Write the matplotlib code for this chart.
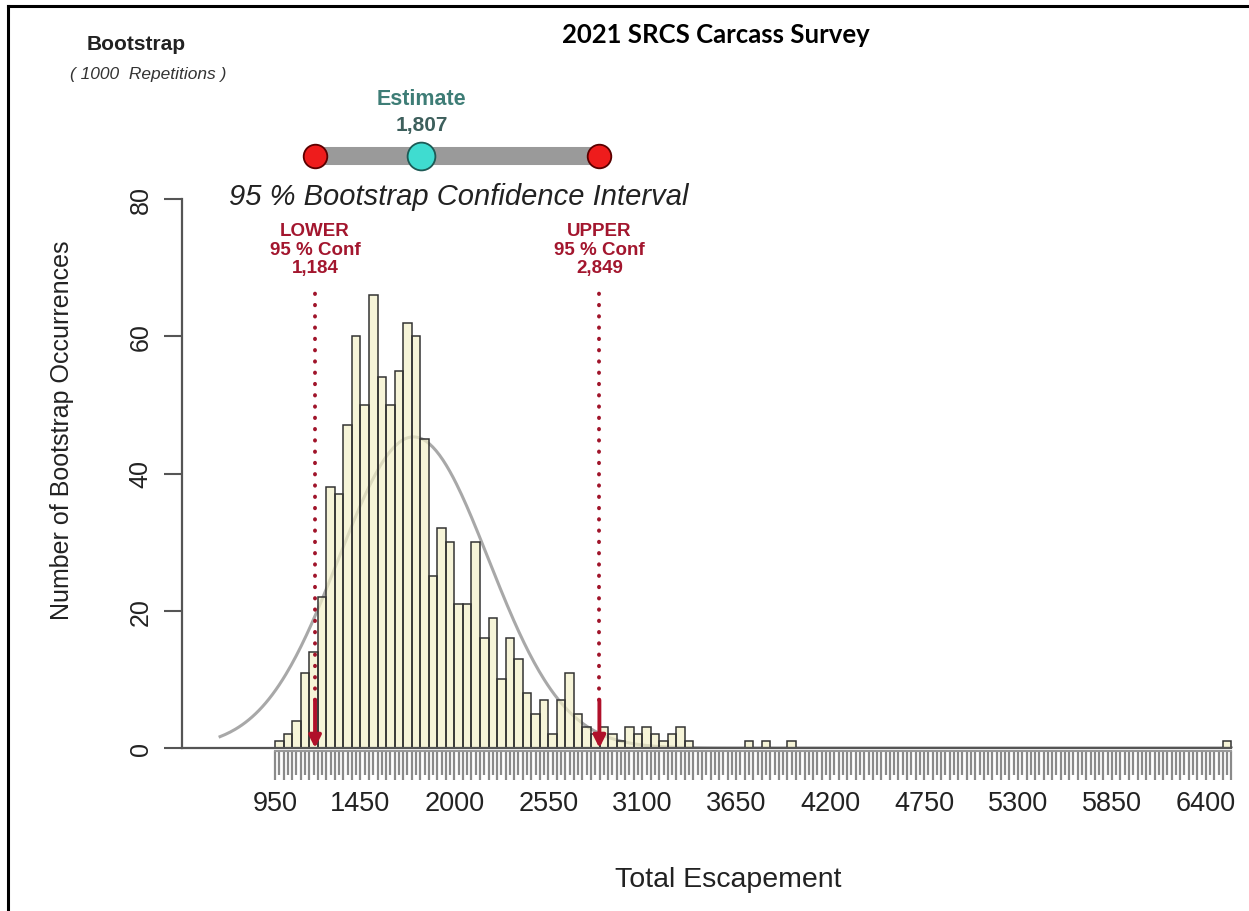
import numpy as np
import matplotlib.pyplot as plt
from matplotlib.lines import Line2D

plt.rcParams['font.family'] = ['Liberation Sans', 'DejaVu Sans']

#%% bootstrap results (1000 reps, 50-wide bins from 950)
bin_start = 950
bin_width = 50
counts = [1, 2, 4, 11, 14, 22, 38, 37, 47, 60, 50, 66, 54, 50, 55, 62, 60, 45, 25, 32, 30,
          21, 21, 30, 16, 19, 10, 16, 13, 8, 5, 7, 2, 7, 11, 5, 3, 2, 3, 2, 1, 3, 2, 3, 2,
          1, 2, 3, 1]
tail_lefts = [3700, 3800, 3950, 6500]
tail_counts = [1, 1, 1, 1]
break_end = 6550

tick_labels = [950, 1450, 2000, 2550, 3100, 3650, 4200, 4750, 5300, 5850, 6400]

estimate = 1807
lower = 1184
upper = 2849

# normal fit drawn over the histogram
boot_mean = 1760
boot_sd = 440
n_reps = 1000

#%% figure
W, H = 1249, 912
fig = plt.figure(figsize=(W / 100, H / 100), dpi=100)
ax = fig.add_axes([182 / W, 1 - 749 / H, 1058 / W, 549 / H])
ax.set_xlim(405, 6600)
ax.set_ylim(0, 80)

lefts = list(bin_start + bin_width * np.arange(len(counts))) + tail_lefts
heights = counts + tail_counts

# normal curve sits under a semi-transparent fill
xs = np.linspace(628, break_end, 600)
ys = n_reps * bin_width * np.exp(-0.5 * ((xs - boot_mean) / boot_sd) ** 2) / (boot_sd * np.sqrt(2 * np.pi))
ax.plot(xs, ys, color='#a8a8a8', lw=2.2, zorder=1)

ax.bar(lefts, heights, width=bin_width, align='edge', color='#f3f0c8', alpha=0.7,
       edgecolor='none', zorder=2)
ax.bar(lefts, heights, width=bin_width, align='edge', fill=False,
       edgecolor='#333333', lw=1.1, zorder=3)

# baseline at zero
ax.plot([405, break_end], [0, 0], color='#555555', lw=1.6, clip_on=False, zorder=4)

# axes styling
for s in ['top', 'right']:
    ax.spines[s].set_visible(False)
ax.spines['left'].set_bounds(0, 80)
ax.spines['left'].set_color('#555555')
ax.spines['left'].set_linewidth(1.6)
ax.spines['bottom'].set_position(('outward', 2.5))
ax.spines['bottom'].set_bounds(bin_start, break_end)
ax.spines['bottom'].set_color('#999999')
ax.spines['bottom'].set_linewidth(1.5)

breaks = np.arange(bin_start, break_end + 1, bin_width)
ax.set_xticks(breaks)
ax.set_xticks(breaks[:-1] + bin_width / 2, minor=True)
ax.set_xticklabels([str(b) if b in tick_labels else '' for b in breaks])
ax.tick_params(axis='x', which='major', length=21, width=1.6, color='#8a8a8a', pad=7,
               labelsize=19.5, labelcolor='#222222')
ax.tick_params(axis='x', which='minor', length=17, width=1.6, color='#8a8a8a')

ax.set_yticks([0, 20, 40, 60, 80])
ax.set_yticklabels(['0', '20', '40', '60', '80'], rotation=90, va='center')
ax.tick_params(axis='y', length=13, width=1.5, color='#555555', pad=8,
               labelsize=18, labelcolor='#222222')

#%% confidence limits
for v, name in [(lower, 'LOWER'), (upper, 'UPPER')]:
    ax.plot([v, v], [7, 66.5], color='#a0142a', lw=2.8, linestyle=(0, (0.1, 2.8)),
            dash_capstyle='round', zorder=5)
    ax.annotate('', xy=(v, 0), xytext=(v, 7),
                arrowprops=dict(arrowstyle='-|>', color='#b0102a', lw=2.8,
                                mutation_scale=18, shrinkA=0, shrinkB=0), zorder=6)
    ax.text(v, 72.7, name + '\n95 % Conf\n' + f'{v:,}', ha='center', va='center',
            color='#a3162e', fontsize=13.5, fontweight='bold', linespacing=1.1)

# interval bar above the plot
bar_y = 86.3
ax.plot([lower, upper], [bar_y, bar_y], color='#9a9a9a', lw=13, solid_capstyle='butt',
        clip_on=False, zorder=5)
ax.plot([lower, upper], [bar_y, bar_y], 'o', ms=17, mfc='#ee1c1c', mec='#5a0000',
        mew=1.3, clip_on=False, zorder=6)
ax.plot([estimate], [bar_y], 'o', ms=20, mfc='#3fdcd0', mec='#1d5a55', mew=1.3,
        clip_on=False, zorder=7)
ax.text(estimate, 94.6, 'Estimate', ha='center', va='center', color='#3e7d76',
        fontsize=15.5, fontweight='bold')
ax.text(estimate, 90.9, f'{estimate:,}', ha='center', va='center', color='#3d5f5c',
        fontsize=15, fontweight='bold')

#%% titles and labels
fig.text(716 / W, 1 - 35 / H, '2021 SRCS Carcass Survey', ha='center', va='center',
         fontsize=18.5, fontweight='bold', family=['Lato', 'DejaVu Sans'])
fig.text(136 / W, 1 - 45 / H, 'Bootstrap', ha='center', va='center', fontsize=15,
         fontweight='bold', color='#222222')
fig.text(148 / W, 1 - 75 / H, '( 1000  Repetitions )', ha='center', va='center',
         fontsize=12.5, style='italic', color='#333333')
fig.text(459 / W, 1 - 197 / H, '95 % Bootstrap Confidence Interval', ha='center',
         va='center', fontsize=21, style='italic', color='#222222')
fig.text(728 / W, 1 - 880 / H, 'Total Escapement', ha='center', va='center',
         fontsize=20.5, color='#222222')
fig.text(62 / W, 1 - 430 / H, 'Number of Bootstrap Occurrences', ha='center',
         va='center', rotation=90, fontsize=18, color='#222222')

# page frame
fig.add_artist(Line2D([8 / W, 8 / W], [0, 1 - 7 / H], color='black', lw=2.2,
                      transform=fig.transFigure))
fig.add_artist(Line2D([8 / W, 1], [1 - 7 / H, 1 - 7 / H], color='black', lw=2.2,
                      transform=fig.transFigure))

fig.savefig('out.png', dpi=100)
